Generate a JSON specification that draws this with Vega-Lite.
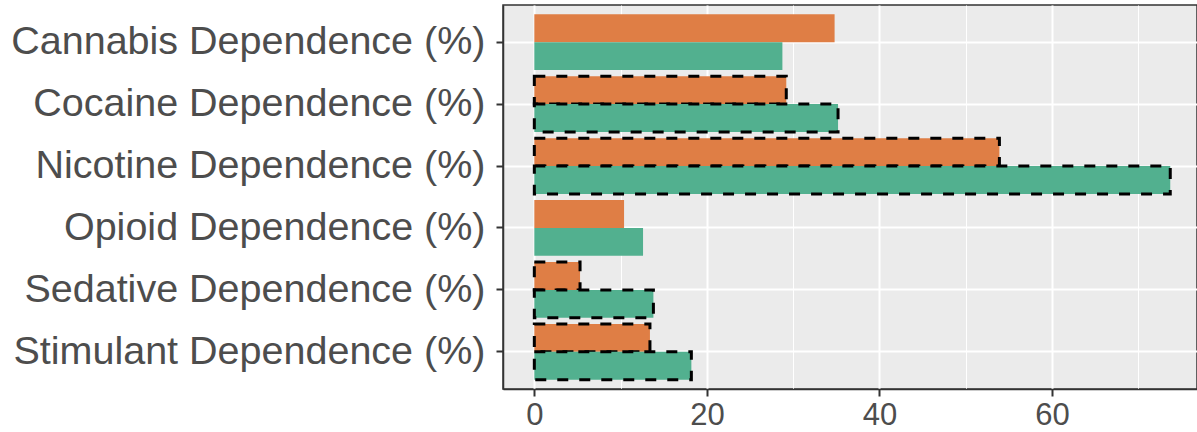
{
  "$schema": "https://vega.github.io/schema/vega-lite/v6.json",
  "autosize": "none",
  "width": 694,
  "height": 384,
  "padding": {"left": 503, "top": 5, "right": 0, "bottom": 43},
  "background": "white",
  "config": {
    "view": {"fill": "#EBEBEB", "stroke": "#333333", "strokeWidth": 1.5},
    "font": "Liberation Sans"
  },
  "data": {
    "values": [
      {"measure": "Cannabis Dependence (%)", "group": "Group A", "value": 34.8, "outlined": false},
      {"measure": "Cannabis Dependence (%)", "group": "Group B", "value": 28.75, "outlined": false},
      {"measure": "Cocaine Dependence (%)", "group": "Group A", "value": 29.2, "outlined": true},
      {"measure": "Cocaine Dependence (%)", "group": "Group B", "value": 35.2, "outlined": true},
      {"measure": "Nicotine Dependence (%)", "group": "Group A", "value": 53.9, "outlined": true},
      {"measure": "Nicotine Dependence (%)", "group": "Group B", "value": 73.7, "outlined": true},
      {"measure": "Opioid Dependence (%)", "group": "Group A", "value": 10.4, "outlined": false},
      {"measure": "Opioid Dependence (%)", "group": "Group B", "value": 12.6, "outlined": false},
      {"measure": "Sedative Dependence (%)", "group": "Group A", "value": 5.3, "outlined": true},
      {"measure": "Sedative Dependence (%)", "group": "Group B", "value": 13.8, "outlined": true},
      {"measure": "Stimulant Dependence (%)", "group": "Group A", "value": 13.4, "outlined": true},
      {"measure": "Stimulant Dependence (%)", "group": "Group B", "value": 18.2, "outlined": true}
    ]
  },
  "mark": {"type": "bar", "strokeDash": [11, 11], "strokeWidth": 3, "cornerRadius": 0},
  "encoding": {
    "y": {
      "field": "measure",
      "type": "nominal",
      "sort": null,
      "title": null,
      "scale": {"paddingInner": 0.1, "paddingOuter": 0.15},
      "axis": {
        "bandPosition": 0.5,
        "labelFontSize": 39.5,
        "labelColor": "#4D4D4D",
        "labelPadding": 11,
        "labelLimit": 600,
        "tickColor": "#333333",
        "tickSize": 7,
        "tickWidth": 2,
        "domainColor": "#333333",
        "domainWidth": 1.5,
        "grid": true,
        "gridColor": "#FFFFFF",
        "gridWidth": 2
      }
    },
    "yOffset": {
      "field": "group",
      "type": "nominal",
      "sort": ["Group A", "Group B"],
      "scale": {"paddingInner": 0, "paddingOuter": 0}
    },
    "x": {
      "field": "value",
      "type": "quantitative",
      "title": null,
      "scale": {"domain": [-3.63, 76.8], "nice": false, "zero": false},
      "axis": {
        "values": [0, 10, 20, 30, 40, 50, 60, 70],
        "labelExpr": "datum.value % 20 === 0 ? datum.label : ''",
        "labelFontSize": 31,
        "labelColor": "#4D4D4D",
        "labelPadding": 4,
        "labelFlush": false,
        "labelOverlap": false,
        "tickColor": "#333333",
        "tickSize": 7,
        "tickWidth": 2,
        "tickOpacity": {"condition": {"test": "datum.value % 20 === 0", "value": 1}, "value": 0},
        "domainColor": "#333333",
        "domainWidth": 1.5,
        "grid": true,
        "gridColor": "#FFFFFF",
        "gridWidth": {"condition": {"test": "datum.value % 20 === 0", "value": 2}, "value": 1}
      }
    },
    "fill": {
      "field": "group",
      "type": "nominal",
      "scale": {"domain": ["Group A", "Group B"], "range": ["#DF7E45", "#52B08F"]},
      "legend": null
    },
    "stroke": {
      "condition": {"test": "datum.outlined", "value": "#000000"},
      "value": "transparent"
    }
  }
}
